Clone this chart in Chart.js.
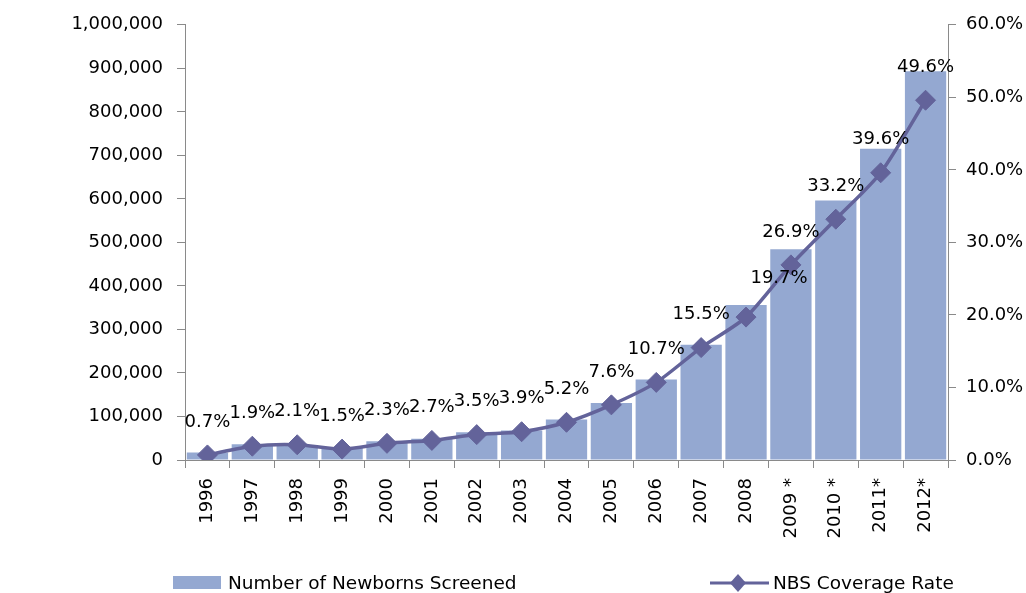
<!DOCTYPE html>
<html>
<head>
<meta charset="utf-8">
<script src="https://cdn.jsdelivr.net/npm/chart.js@4"></script>
<style>
  html, body { margin: 0; padding: 0; background: #fff; }
  canvas { display: block; }
</style>
</head>
<body>
<canvas id="chart" width="1026" height="593"></canvas>
<script>
// data
const years = ['1996','1997','1998','1999','2000','2001','2002','2003','2004','2005','2006','2007','2008','2009 *','2010 *','2011*','2012*'];
const screened = [17000, 36000, 34000, 30000, 43000, 49000, 64000, 68000, 93000, 131000, 185000, 265000, 356000, 484000, 596000, 715000, 893000];
const coverage = [0.7, 1.9, 2.1, 1.5, 2.3, 2.7, 3.5, 3.9, 5.2, 7.6, 10.7, 15.5, 19.7, 26.9, 33.2, 39.6, 49.6];

const FONT = 'DejaVu Sans';
const BAR = '#94A8D1';
const LINE = '#63639A';
const AXIS = '#8a8a8a';

function fmtNum(v){ return new Intl.NumberFormat('en-US').format(v); }

// percent labels above the diamonds (2008 label sits off to the right like the original)
const pointLabels = {
  id: 'pointLabels',
  afterDatasetsDraw(chart){
    const meta = chart.getDatasetMeta(0);
    const ctx = chart.ctx;
    ctx.save();
    ctx.font = '18px ' + FONT;
    ctx.fillStyle = '#000';
    ctx.textAlign = 'center';
    ctx.textBaseline = 'middle';
    meta.data.forEach((pt, i) => {
      let dx = 0, dy = -33;
      if (i === 12) { dx = 33; dy = -39; }
      ctx.fillText(coverage[i].toFixed(1) + '%', pt.x + dx, pt.y + dy);
    });
    ctx.restore();
  }
};

// legend along the bottom edge
const bottomLegend = {
  id: 'bottomLegend',
  afterDraw(chart){
    const ctx = chart.ctx;
    const y = 584;
    ctx.save();
    ctx.font = '18.5px ' + FONT;
    ctx.textBaseline = 'middle';
    ctx.textAlign = 'left';

    ctx.fillStyle = BAR;
    ctx.fillRect(173, 576, 48, 13);
    ctx.fillStyle = '#000';
    ctx.fillText(chart.data.datasets[1].label, 228, y);

    ctx.strokeStyle = LINE;
    ctx.lineWidth = 3;
    ctx.beginPath(); ctx.moveTo(710, 583); ctx.lineTo(769, 583); ctx.stroke();
    ctx.fillStyle = LINE;
    ctx.beginPath();
    ctx.moveTo(738, 574); ctx.lineTo(746, 583); ctx.lineTo(738, 592); ctx.lineTo(730, 583);
    ctx.closePath(); ctx.fill();
    ctx.fillStyle = '#000';
    ctx.fillText(chart.data.datasets[0].label, 773, y);
    ctx.restore();
  }
};

new Chart(document.getElementById('chart').getContext('2d'), {
  data: {
    labels: years,
    datasets: [
      {
        type: 'line',
        label: 'NBS Coverage Rate',
        data: coverage,
        yAxisID: 'yR',
        borderColor: LINE,
        backgroundColor: LINE,
        borderWidth: 3.5,
        tension: 0.25,
        pointStyle: 'rectRot',
        pointRadius: 10,
        pointBorderWidth: 1,
        pointBackgroundColor: LINE,
        pointBorderColor: LINE,
        order: 0
      },
      {
        type: 'bar',
        label: 'Number of Newborns Screened',
        data: screened,
        yAxisID: 'yL',
        backgroundColor: BAR,
        barPercentage: 0.92,
        categoryPercentage: 1.0,
        order: 1
      }
    ]
  },
  options: {
    responsive: false,
    animation: false,
    layout: { padding: { top: 22, left: 0, right: 0, bottom: 0 } },
    plugins: { legend: { display: false }, tooltip: { enabled: false } },
    scales: {
      x: {
        offset: true,
        grid: { drawOnChartArea: false, offset: true, tickLength: 8, color: AXIS },
        border: { color: AXIS, width: 1 },
        ticks: { color: '#000', font: { family: FONT, size: 18 }, minRotation: 90, maxRotation: 90, padding: 10, autoSkip: false },
        afterFit(s){ s.height = 133; }
      },
      yL: {
        position: 'left',
        min: 0, max: 1000000,
        grid: { drawOnChartArea: false, tickLength: 8, color: AXIS },
        border: { color: AXIS, width: 1 },
        ticks: { stepSize: 100000, color: '#000', font: { family: FONT, size: 18 }, padding: 14, callback: v => fmtNum(v) },
        afterFit(s){ s.width = 185; }
      },
      yR: {
        position: 'right',
        min: 0, max: 60,
        grid: { drawOnChartArea: false, tickLength: 8, color: AXIS },
        border: { color: AXIS, width: 1 },
        ticks: { stepSize: 10, color: '#000', font: { family: FONT, size: 18 }, padding: 10, callback: v => v.toFixed(1) + '%' },
        afterFit(s){ s.width = 78; }
      }
    }
  },
  plugins: [pointLabels, bottomLegend]
});
</script>
</body>
</html>
